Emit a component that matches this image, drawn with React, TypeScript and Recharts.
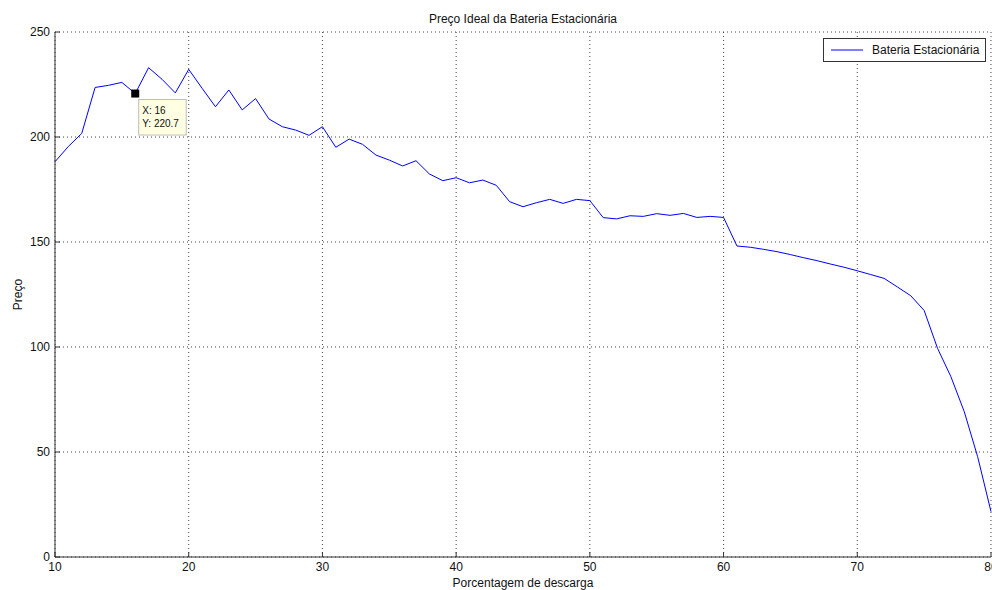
import React from 'react';
import { LineChart, Line, XAxis, YAxis, CartesianGrid, Legend, ReferenceDot } from 'recharts';

const descarga = [
  10, 11, 12, 13, 14, 15, 16, 17, 18, 19,
  20, 21, 22, 23, 24, 25, 26, 27, 28, 29,
  30, 31, 32, 33, 34, 35, 36, 37, 38, 39,
  40, 41, 42, 43, 44, 45, 46, 47, 48, 49,
  50, 51, 52, 53, 54, 55, 56, 57, 58, 59,
  60, 61, 62, 63, 64, 65, 66, 67, 68, 69,
  70, 71, 72, 73, 74, 75, 76, 77, 78, 79, 80,
];

const preco = [
  188.2, 195.5, 201.7, 223.6, 224.6, 226.0, 220.7, 233.0, 227.5, 221.0,
  232.2, 223.2, 214.4, 222.4, 212.9, 218.3, 208.6, 204.9, 203.3, 200.8,
  204.9, 195.1, 199.0, 196.5, 191.4, 189.0, 186.2, 188.7, 182.4, 179.2,
  180.6, 178.2, 179.5, 177.0, 169.2, 166.8, 168.7, 170.3, 168.4, 170.3,
  169.7, 161.6, 161.0, 162.5, 162.2, 163.5, 162.7, 163.6, 161.7, 162.2,
  161.7, 148.1, 147.5, 146.5, 145.4, 144.0, 142.5, 141.1, 139.5, 138.0,
  136.3, 134.5, 132.7, 128.6, 124.4, 117.4, 99.4, 85.9, 69.2, 47.8, 21.6,
];

const xTicks = [10, 20, 30, 40, 50, 60, 70, 80];
const yTicks = [0, 50, 100, 150, 200, 250];

const tipX = 16;
const tipY = 220.7;

const seriesName = 'Bateria Estacionária';
const titleText = 'Preço Ideal da Bateria Estacionária';
const xLabel = 'Porcentagem de descarga';
const yLabel = 'Preço';

const data = descarga.map((x, i) => ({ x, preco: preco[i] }));

const FONT = '"Liberation Sans", Arial, sans-serif';
const AXIS = '#333333';
const TXT = '#111111';

const BottomTick = (props: any) => {
  const { x, y, payload } = props;
  return (
    <g>
      <line x1={x} x2={x} y1={y} y2={y - 5} stroke={AXIS} />
      <text x={x} y={y + 14} textAnchor="middle" fontSize={12} fontFamily={FONT} fill={TXT}>
        {payload.value}
      </text>
    </g>
  );
};

const TopTick = (props: any) => {
  const { x, y } = props;
  return <line x1={x} x2={x} y1={y} y2={y + 5} stroke={AXIS} />;
};

const LeftTick = (props: any) => {
  const { x, y, payload } = props;
  return (
    <g>
      <line x1={x} x2={x + 5} y1={y} y2={y} stroke={AXIS} />
      <text x={x - 5} y={y + 4} textAnchor="end" fontSize={12} fontFamily={FONT} fill={TXT}>
        {payload.value}
      </text>
    </g>
  );
};

const RightTick = (props: any) => {
  const { x, y } = props;
  return <line x1={x} x2={x - 5} y1={y} y2={y} stroke={AXIS} />;
};

const DataTip = (props: any) => {
  const { cx, cy } = props;
  return (
    <g>
      <rect x={cx - 4} y={cy - 4} width={8} height={8} fill="#000" />
      <rect x={cx + 3.5} y={cy + 6} width={47.5} height={35.5} fill="#FFFFE1" stroke="#BDBDBD" />
      <text x={cx + 7} y={cy + 20.5} fontSize={10} fontFamily={FONT} fill={TXT}>
        {`X: ${tipX}`}
      </text>
      <text x={cx + 7} y={cy + 33} fontSize={10} fontFamily={FONT} fill={TXT}>
        {`Y: ${tipY}`}
      </text>
    </g>
  );
};

const LegendBox = () => (
  <div
    style={{
      width: 163,
      height: 24,
      border: `1px solid ${AXIS}`,
      background: '#fff',
      boxSizing: 'border-box',
      display: 'flex',
      alignItems: 'center',
      fontFamily: FONT,
      fontSize: 12,
      color: TXT,
    }}
  >
    <svg width={48} height={10} style={{ display: 'block' }}>
      <line x1={7} x2={39} y1={5} y2={5} stroke="#0000FF" strokeWidth={1} />
    </svg>
    <span>{seriesName}</span>
  </div>
);

export default function App() {
  return (
    <div style={{ position: 'absolute', left: 0, top: 0, width: 992, height: 590, background: '#fff' }}>
      <div
        style={{
          position: 'absolute',
          left: 55,
          width: 936,
          top: 11,
          textAlign: 'center',
          fontFamily: FONT,
          fontSize: 12,
          lineHeight: '16px',
          color: TXT,
        }}
      >
        {titleText}
      </div>
      <LineChart width={992} height={590} data={data} margin={{ top: 32, right: 1, bottom: 0, left: 0 }}>
        <CartesianGrid stroke="#444" strokeDasharray="1 3" />
        <XAxis
          dataKey="x"
          type="number"
          domain={[10, 80]}
          ticks={xTicks}
          height={33}
          tickSize={0}
          tickMargin={0}
          tick={<BottomTick />}
          axisLine={{ stroke: AXIS }}
          tickLine={false}
          interval={0}
          label={{ value: xLabel, position: 'insideBottom', offset: 3, fontSize: 12, fontFamily: FONT, fill: TXT }}
        />
        <XAxis
          xAxisId="top"
          orientation="top"
          dataKey="x"
          type="number"
          domain={[10, 80]}
          ticks={xTicks}
          height={0}
          tickSize={0}
          tickMargin={0}
          tick={<TopTick />}
          axisLine={{ stroke: AXIS }}
          tickLine={false}
          interval={0}
        />
        <YAxis
          type="number"
          domain={[0, 250]}
          ticks={yTicks}
          width={55}
          tickSize={0}
          tickMargin={0}
          tick={<LeftTick />}
          axisLine={{ stroke: AXIS }}
          tickLine={false}
          interval={0}
          label={{ value: yLabel, angle: -90, position: 'center', dx: -10, fontSize: 12, fontFamily: FONT, fill: TXT }}
        />
        <YAxis
          yAxisId="right"
          orientation="right"
          type="number"
          domain={[0, 250]}
          ticks={yTicks}
          width={0}
          tickSize={0}
          tickMargin={0}
          tick={<RightTick />}
          axisLine={{ stroke: AXIS }}
          tickLine={false}
          interval={0}
        />
        <Legend
          layout="horizontal"
          verticalAlign="middle"
          align="center"
          wrapperStyle={{ left: 823, top: 38, width: 163, height: 24 }}
          content={<LegendBox />}
        />
        <Line
          type="linear"
          dataKey="preco"
          name={seriesName}
          stroke="#0000FF"
          strokeWidth={1}
          dot={false}
          activeDot={false}
          isAnimationActive={false}
        />
        <ReferenceDot x={tipX} y={tipY} r={4} shape={<DataTip />} />
      </LineChart>
    </div>
  );
}
